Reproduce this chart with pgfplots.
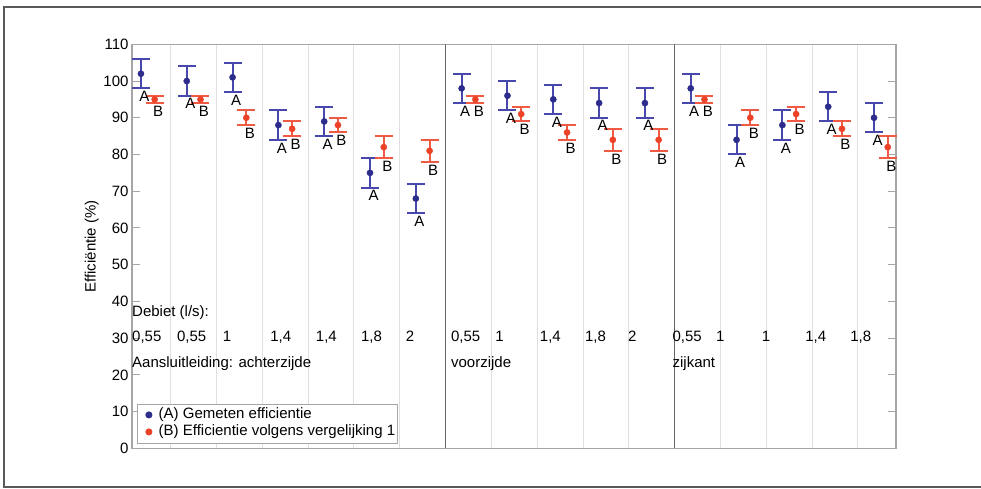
\documentclass[border=0pt]{standalone}
\usepackage{fontspec}
\setmainfont{Liberation Sans}
\usepackage{pgfplots}
\pgfplotsset{compat=1.18}
\usepackage{pgfplotstable}

\definecolor{colA}{RGB}{44,44,140}
\definecolor{colAbar}{RGB}{72,72,172}
\definecolor{colB}{RGB}{236,66,40}
\definecolor{colBbar}{RGB}{240,90,66}

% k = category slot, y = efficiency, e = error
\pgfplotstableread{
k y e
1 102 4
2 100 4
3 101 4
4 88 4
5 89 4
6 75 4
7 68 4
8 98 4
9 96 4
10 95 4
11 94 4
12 94 4
13 98 4
14 84 4
15 88 4
16 93 4
17 90 4
}\tabA
\pgfplotstableread{
k y e
1 95 1
2 95 1
3 90 2
4 87 2
5 88 2
6 82 3
7 81 3
8 95 1
9 91 2
10 86 2
11 84 3
12 84 3
13 95 1
14 90 2
15 91 2
16 87 2
17 82 3
}\tabB

\newcommand{\fs}{\fontsize{15}{18}\selectfont}

\begin{document}
\begin{tikzpicture}
\useasboundingbox (-132pt,-39.7pt) rectangle (849pt,448.3pt);
\draw[line width=1.5pt, black!65] (-128pt,-38.7pt) rectangle (860pt,441.3pt);
\begin{axis}[
  at={(0pt,0pt)}, anchor=south west,
  scale only axis, width=764pt, height=404pt,
  xmin=0.655, xmax=17.33, ymin=0, ymax=110,
  font=\fs,
  xtick={1.5,2.5,3.5,4.5,5.5,6.5,8.5,9.5,10.5,11.5,13.5,14.5,15.5,16.5},
  xticklabels={},
  xtick style={draw=none},
  extra x ticks={7.5,12.5},
  extra x tick labels={},
  extra x tick style={grid style={black!60, line width=1.2pt}, xtick style={draw=none}},
  xmajorgrids=true,
  grid style={black!12, line width=1pt},
  ytick={0,10,...,110},
  ytick pos=both,
  tick align=inside,
  major tick length=8pt,
  ytick style={black!35, line width=1pt},
  yticklabel style={font=\fs, xshift=0pt},
  /pgf/number format/assume math mode=true,
  axis line style={black!35, line width=1.2pt},
  ylabel={Efficiëntie (\%)},
  ylabel style={at={(axis description cs:-0.0527,0.5)}, anchor=center, font=\fs},
  clip=false,
  legend style={at={(0,0)}, anchor=south west, xshift=5.3pt, yshift=5pt,
    draw=black!35, line width=0.8pt, font=\fs, inner xsep=1pt, inner ysep=2.5pt,
    row sep=0pt, nodes={inner sep=1.5pt, text height=11pt, text depth=3pt}},
  legend cell align=left,
  legend image code/.code={\path[draw=none,fill=none] (0pt,0pt) -- (18.5pt,0pt); \draw[#1] plot coordinates {(10.2pt,0pt)};},
]
\addplot[only marks, mark=*, mark size=3.1pt, color=colA,
  error bars/.cd, y dir=both, y explicit,
  error bar style={line width=2pt, colAbar},
  error mark options={line width=2pt, mark size=9pt, colAbar, rotate=90}]
  table[x expr=\thisrow{k}-0.15, y=y, y error=e] {\tabA};
\addlegendentry{(A) Gemeten efficientie}
\addplot[only marks, mark=*, mark size=3.1pt, color=colB,
  error bars/.cd, y dir=both, y explicit,
  error bar style={line width=2pt, colBbar},
  error mark options={line width=2pt, mark size=9pt, colBbar, rotate=90}]
  table[x expr=\thisrow{k}+0.15, y=y, y error=e] {\tabB};
\addlegendentry{(B) Efficientie volgens vergelijking 1}

\addplot[forget plot, only marks, mark=none, nodes near coords={A},
  every node near coord/.append style={anchor=north, inner sep=0pt, yshift=-2.7pt, xshift=3.5pt, font=\fs, text=black}]
  table[x expr=\thisrow{k}-0.15, y expr=\thisrow{y}-\thisrow{e}] {\tabA};
\addplot[forget plot, only marks, mark=none, nodes near coords={B},
  every node near coord/.append style={anchor=north, inner sep=0pt, yshift=-2.7pt, xshift=3.5pt, font=\fs, text=black}]
  table[x expr=\thisrow{k}+0.15, y expr=\thisrow{y}-\thisrow{e}] {\tabB};

\begin{scope}[every node/.style={anchor=base west, inner sep=0pt, font=\fs}]
\node at (axis cs:0.655,36) {Debiet (l/s):};
\node at (axis cs:0.655,22.1) {Aansluitleiding: achterzijde};
\node at (axis cs:7.615,22.1) {voorzijde};
\node at (axis cs:12.45,22.1) {zijkant};
\node at (axis cs:0.655,29) {0,55};
\node at (axis cs:1.635,29) {0,55};
\node at (axis cs:2.635,29) {1};
\node at (axis cs:3.67,29) {1,4};
\node at (axis cs:4.665,29) {1,4};
\node at (axis cs:5.65,29) {1,8};
\node at (axis cs:6.63,29) {2};
\node at (axis cs:7.615,29) {0,55};
\node at (axis cs:8.58,29) {1};
\node at (axis cs:9.555,29) {1,4};
\node at (axis cs:10.54,29) {1,8};
\node at (axis cs:11.48,29) {2};
\node at (axis cs:12.45,29) {0,55};
\node at (axis cs:13.40,29) {1};
\node at (axis cs:14.40,29) {1};
\node at (axis cs:15.345,29) {1,4};
\node at (axis cs:16.33,29) {1,8};
\end{scope}
\end{axis}
\end{tikzpicture}
\end{document}
